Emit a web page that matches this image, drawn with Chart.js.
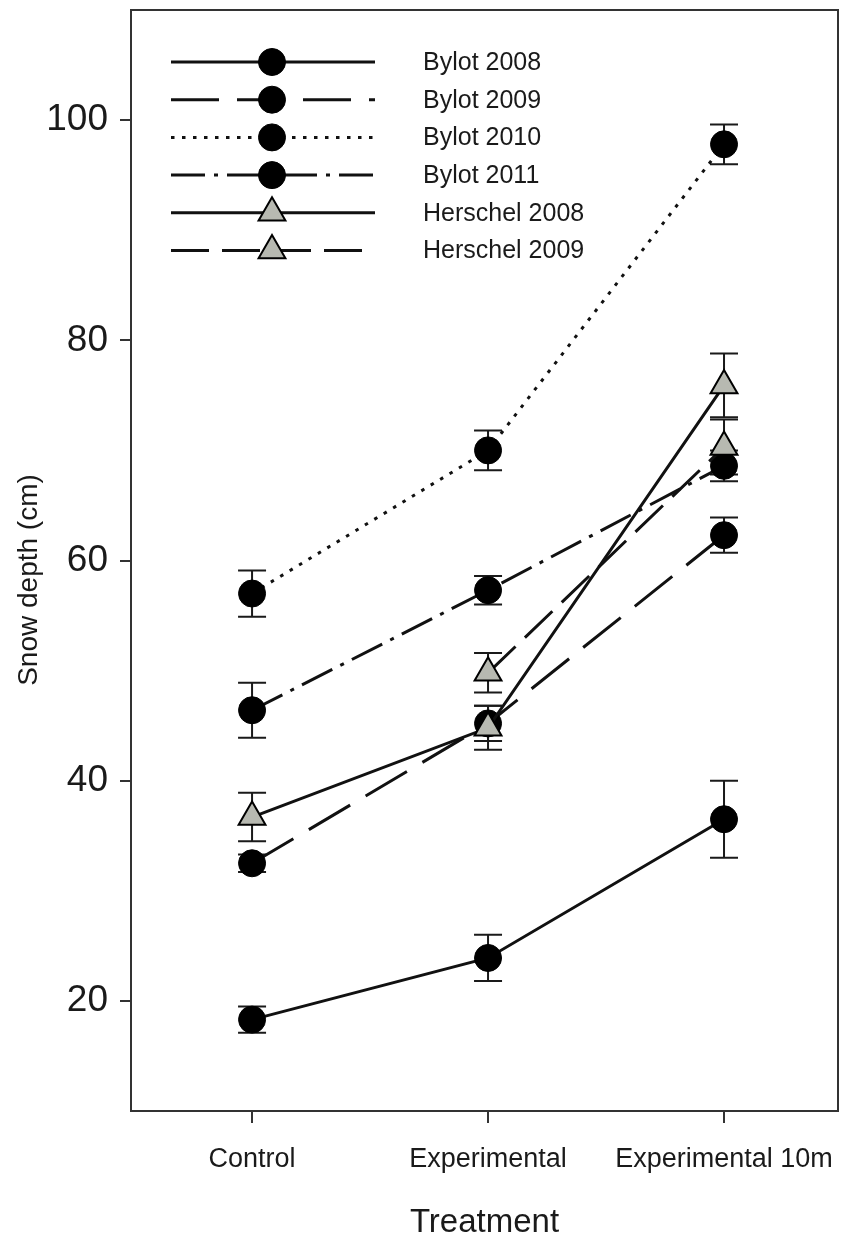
<!DOCTYPE html>
<html lang="en">
<head>
<meta charset="UTF-8">
<title>Snow depth by treatment</title>
<script src="https://cdn.jsdelivr.net/npm/chart.js@4.4.0/dist/chart.umd.min.js"></script>
<style>
  body { margin: 0; background: #fff; }
  #wrap { width: 844px; height: 1243px; }
</style>
</head>
<body>
<div id="wrap"><canvas id="snowChart"></canvas></div>
<script>
// Treatments along the x axis, and the y tick values
const treatments = ['Control', 'Experimental', 'Experimental 10m'];
const yTicks = [20, 40, 60, 80, 100];

// Mean snow depth (cm) and standard errors per site/year
const bylot2008 = [18.3, 23.9, 36.5];
const bylot2008Err = [1.2, 2.1, 3.5];
const bylot2009 = [32.5, 45.2, 62.3];
const bylot2009Err = [0.8, 1.6, 1.6];
const bylot2010 = [57.0, 70.0, 97.8];
const bylot2010Err = [2.1, 1.8, 1.8];
const bylot2011 = [46.4, 57.3, 68.6];
const bylot2011Err = [2.5, 1.3, 1.4];
const herschel2008 = [36.7, 44.8, 75.9];
const herschel2008Err = [2.2, 2.0, 2.9];
const herschel2009 = [null, 49.8, 70.3];
const herschel2009Err = [null, 1.8, 2.5];

const FONT = '"Liberation Sans", Arial, sans-serif';
const INK = '#1a1a1a';

function pts(values) {
  return values.map((v, i) => ({ x: i, y: v }));
}

function series(label, values, errors, dash, style, order) {
  const tri = style === 'triangle';
  return {
    label: label,
    data: pts(values),
    errors: errors,
    borderColor: '#111',
    borderWidth: 3,
    borderDash: dash,
    pointStyle: style,
    pointRadius: tri ? 15.5 : 13.5,
    pointBackgroundColor: tri ? '#b7b9b1' : '#000',
    pointBorderColor: '#000',
    pointBorderWidth: tri ? 2 : 1,
    tension: 0,
    order: order,
    clip: false
  };
}

const datasets = [
  series('Bylot 2008', bylot2008, bylot2008Err, [], 'circle', 5),
  series('Bylot 2009', bylot2009, bylot2009Err, [48, 18], 'circle', 4),
  series('Bylot 2010', bylot2010, bylot2010Err, [3.5, 7.5], 'circle', 3),
  series('Bylot 2011', bylot2011, bylot2011Err, [34, 9, 4, 9], 'circle', 2),
  series('Herschel 2008', herschel2008, herschel2008Err, [], 'triangle', 1),
  series('Herschel 2009', herschel2009, herschel2009Err, [38, 13], 'triangle', 0)
];

// Box around the plotting region plus vertical error bars
const frameAndErrors = {
  id: 'frameAndErrors',
  beforeDatasetsDraw(chart) {
    const { ctx, chartArea: a, scales: { x, y } } = chart;
    ctx.save();
    ctx.strokeStyle = '#333';
    ctx.lineWidth = 2;
    ctx.strokeRect(a.left, a.top, a.right - a.left, a.bottom - a.top);

    ctx.strokeStyle = INK;
    ctx.lineWidth = 2;
    chart.data.datasets.forEach(ds => {
      ds.data.forEach((p, i) => {
        const e = ds.errors[i];
        if (p.y == null || e == null) return;
        const px = x.getPixelForValue(p.x);
        const top = y.getPixelForValue(p.y + e);
        const bot = y.getPixelForValue(p.y - e);
        ctx.beginPath();
        ctx.moveTo(px, top); ctx.lineTo(px, bot);
        ctx.moveTo(px - 14, top); ctx.lineTo(px + 14, top);
        ctx.moveTo(px - 14, bot); ctx.lineTo(px + 14, bot);
        ctx.stroke();
      });
    });
    ctx.restore();
  }
};

// Legend in the upper-left of the plot, line sample with marker in the middle
const lineLegend = {
  id: 'lineLegend',
  afterDatasetsDraw(chart) {
    const ctx = chart.ctx;
    ctx.save();
    chart.data.datasets.forEach((ds, i) => {
      const rowY = 62 + i * 37.7;
      ctx.strokeStyle = ds.borderColor;
      ctx.lineWidth = ds.borderWidth;
      ctx.setLineDash(ds.borderDash);
      ctx.beginPath();
      ctx.moveTo(171, rowY);
      ctx.lineTo(375, rowY);
      ctx.stroke();
      ctx.setLineDash([]);
      ctx.fillStyle = ds.pointBackgroundColor;
      ctx.strokeStyle = ds.pointBorderColor;
      ctx.lineWidth = ds.pointBorderWidth;
      Chart.helpers.drawPoint(ctx, {
        pointStyle: ds.pointStyle,
        radius: ds.pointRadius,
        rotation: 0,
        borderWidth: ds.pointBorderWidth
      }, 272, rowY);
      ctx.fillStyle = INK;
      ctx.font = '25px ' + FONT;
      ctx.textBaseline = 'middle';
      ctx.fillText(ds.label, 423, rowY + 1);
    });
    ctx.restore();
  }
};

// Rotated y-axis title
const yTitle = {
  id: 'yTitle',
  afterDraw(chart) {
    const ctx = chart.ctx;
    ctx.save();
    ctx.translate(29, 580);
    ctx.rotate(-Math.PI / 2);
    ctx.fillStyle = INK;
    ctx.font = '28px ' + FONT;
    ctx.textAlign = 'center';
    ctx.textBaseline = 'middle';
    ctx.fillText('Snow depth (cm)', 0, 0);
    ctx.restore();
  }
};

new Chart(document.getElementById('snowChart'), {
  type: 'line',
  data: { datasets: datasets },
  options: {
    responsive: true,
    maintainAspectRatio: false,
    animation: false,
    devicePixelRatio: 1,
    layout: { autoPadding: false, padding: { top: 10, right: 6, left: 0, bottom: 0 } },
    plugins: {
      legend: { display: false },
      tooltip: { enabled: false }
    },
    scales: {
      x: {
        type: 'linear',
        min: -0.513,
        max: 2.483,
        afterBuildTicks: axis => { axis.ticks = treatments.map((t, i) => ({ value: i })); },
        afterFit: axis => {
          axis.height = 132;
          axis.paddingLeft = 0;
          axis.paddingRight = 0;
        },
        ticks: {
          callback: v => treatments[v],
          color: INK,
          font: { family: FONT, size: 27 },
          padding: 20,
          maxRotation: 0,
          autoSkip: false
        },
        grid: { drawOnChartArea: false, drawTicks: true, tickLength: 12, tickColor: '#333', lineWidth: 2 },
        border: { display: false },
        title: {
          display: true,
          text: 'Treatment',
          color: INK,
          font: { family: FONT, size: 33 },
          padding: { top: 0, bottom: 0 }
        }
      },
      y: {
        min: 10,
        max: 110,
        afterBuildTicks: axis => { axis.ticks = yTicks.map(v => ({ value: v })); },
        afterFit: axis => {
          axis.width = 131;
          axis.paddingTop = 0;
          axis.paddingBottom = 0;
        },
        ticks: {
          color: INK,
          font: { family: FONT, size: 37 },
          padding: 12
        },
        grid: { drawOnChartArea: false, drawTicks: true, tickLength: 11, tickColor: '#333', lineWidth: 2 },
        border: { display: false }
      }
    }
  },
  plugins: [frameAndErrors, lineLegend, yTitle]
});
</script>
</body>
</html>
